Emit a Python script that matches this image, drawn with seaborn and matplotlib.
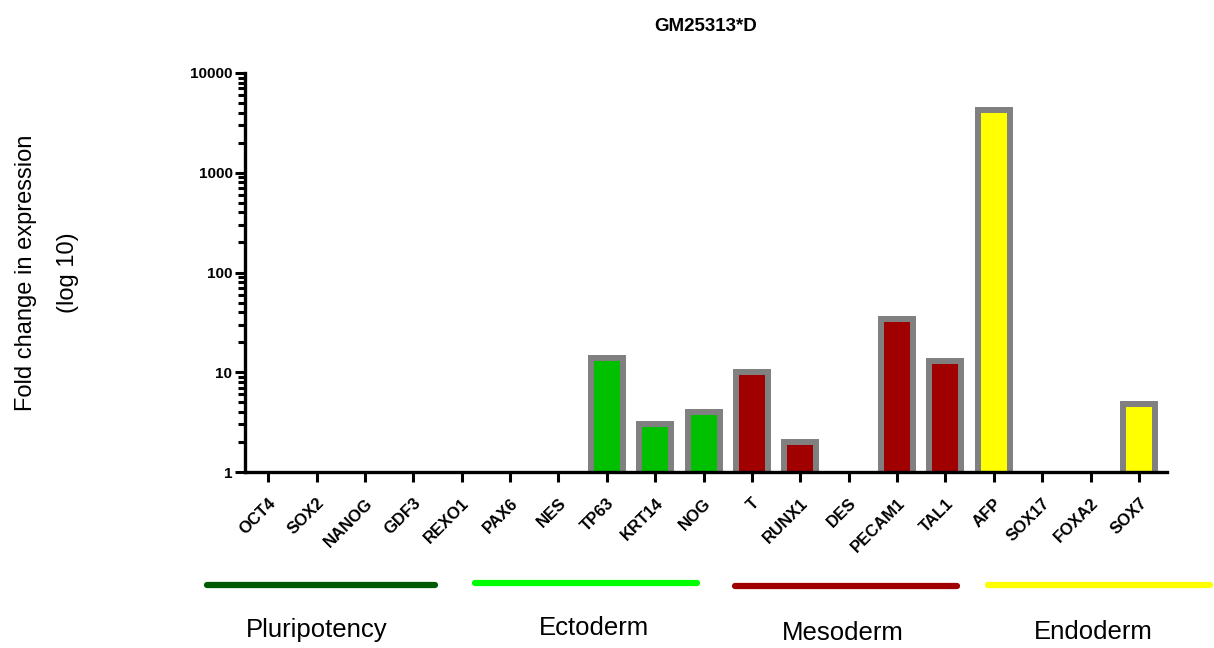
import numpy as np
import pandas as pd
import matplotlib
matplotlib.use("Agg")
import matplotlib.pyplot as plt
from matplotlib.lines import Line2D
from matplotlib.ticker import LogLocator, FixedLocator, NullFormatter
import seaborn as sns

genes = ["OCT4", "SOX2", "NANOG", "GDF3", "REXO1", "PAX6", "NES", "TP63", "KRT14",
         "NOG", "T", "RUNX1", "DES", "PECAM1", "TAL1", "AFP", "SOX17", "FOXA2", "SOX7"]
values = [np.nan, np.nan, np.nan, np.nan, np.nan, np.nan, np.nan, 13.8, 3.0,
          4.0, 10.0, 2.0, np.nan, 34.5, 12.9, 4250.0, np.nan, np.nan, 4.8]
fill_colors = ["#00C000"] * 10 + ["#A00000"] * 5 + ["#FFFF00"] * 4
edge_colors = ["#808080"] * 11 + ["#606060"] * 8
groups = ["Pluripotency", "Ectoderm", "Mesoderm", "Endoderm"]
group_colors = ["#005A00", "#00FF00", "#A00000", "#FFFF00"]
title = "GM25313*D"
ylabel = "Fold change in expression\n(log 10)"
ytick_vals = [1, 10, 100, 1000, 10000]

sns.set_theme(style="white")
plt.rcParams["font.family"] = ["Liberation Sans", "DejaVu Sans"]
plt.rcParams["text.color"] = "black"
plt.rcParams["axes.labelcolor"] = "black"
plt.rcParams["xtick.color"] = "black"
plt.rcParams["ytick.color"] = "black"

W, H = 1214, 648
fig = plt.figure(figsize=(W / 100, H / 100), dpi=100)
ax = fig.add_axes([245 / W, 1 - 472 / H, (1167 - 245) / W, (472 - 73) / H])

df = pd.DataFrame({"gene": genes, "value": values})
pal = dict(zip(genes, fill_colors))
sns.barplot(data=df, x="gene", y="value", hue="gene", palette=pal, order=genes,
            hue_order=genes, legend=False, width=0.66, ax=ax, saturation=1,
            linewidth=4.3, log_scale=(False, True))

ecmap = dict(zip(genes, edge_colors))
for patch, g in zip(ax.patches, genes):
    patch.set_edgecolor(ecmap[g])
    patch.set_linewidth(4.3)

ax.set_yscale("log")
ax.set_ylim(1, 10000)
ax.set_xlim(-0.48, 18.58)
ax.yaxis.set_major_locator(FixedLocator(ytick_vals))
ax.set_yticklabels([str(v) for v in ytick_vals], fontsize=11, fontweight="bold")
ax.yaxis.set_minor_locator(LogLocator(base=10, subs=np.arange(2, 10)))
ax.yaxis.set_minor_formatter(NullFormatter())

for s in ["top", "right"]:
    ax.spines[s].set_visible(False)
for s in ["left", "bottom"]:
    ax.spines[s].set_linewidth(2.4)
    ax.spines[s].set_color("black")

ax.tick_params(axis="y", which="major", direction="out", length=7, width=2.2,
               color="black", pad=2, left=True)
ax.tick_params(axis="y", which="minor", direction="out", length=5, width=2.2,
               color="black", left=True)
ax.tick_params(axis="x", which="major", direction="out", length=7, width=2.2,
               color="black", pad=10, bottom=True)
ax.set_xticks(range(len(genes)))
ax.set_xticklabels(genes, rotation=45, ha="right", rotation_mode="anchor",
                   fontsize=12, fontweight="bold")
ax.set_xlabel("")
ax.set_ylabel(ylabel, fontsize=17, linespacing=2.15, color="black", va="center")
ax.yaxis.set_label_coords(-0.215, 0.5)

ax.set_title(title, fontsize=13.5, fontweight="bold", pad=30, color="black")

# group annotation bars and labels (figure pixels)
line_px = [(207, 435, 585), (475, 697, 583), (735, 957, 586), (988, 1210, 585)]
label_px = [(317, 630), (594, 628), (843, 633), (1093, 632)]
for (x0, x1, yy), col in zip(line_px, group_colors):
    fig.add_artist(Line2D([x0 / W, x1 / W], [1 - yy / H, 1 - yy / H],
                          transform=fig.transFigure, color=col, lw=4.5,
                          solid_capstyle="round"))
for (xx, yy), g in zip(label_px, groups):
    fig.text(xx / W, 1 - yy / H, g, ha="center", va="center", fontsize=18.5,
             color="black")

fig.savefig("out.png", dpi=100)
